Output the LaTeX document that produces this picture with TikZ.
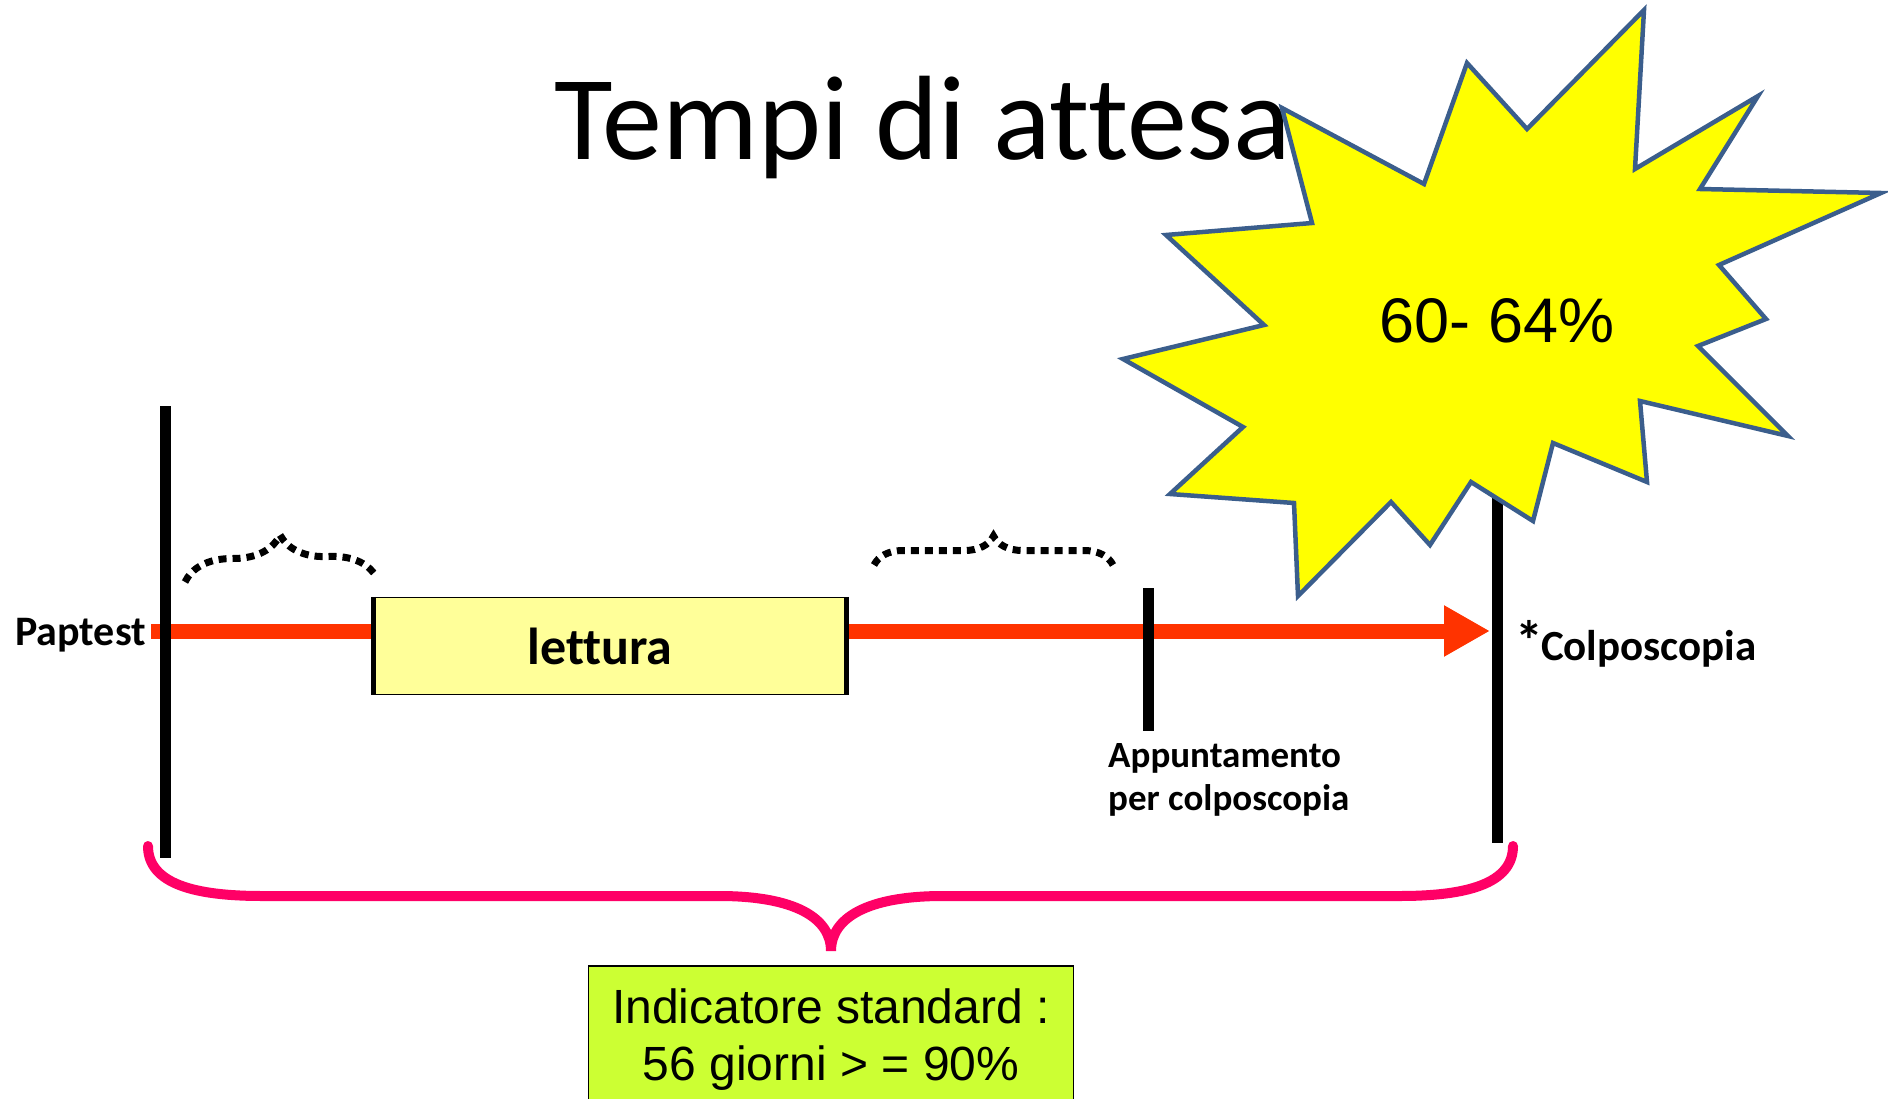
\documentclass[tikz,border=0pt]{standalone}
\usepackage{fontspec}
\setmainfont[Ligatures=NoCommon]{Carlito}
\newfontfamily\arialFont{Liberation Sans}
\usetikzlibrary{arrows.meta, decorations.pathreplacing, calc, positioning}
\definecolor{lineRed}{RGB}{255,51,0}
\definecolor{bracePink}{RGB}{255,0,102}
\definecolor{starYellow}{RGB}{255,255,0}
\definecolor{starBlue}{RGB}{59,94,140}
\definecolor{readYellow}{RGB}{255,255,153}
\definecolor{boxGreen}{RGB}{204,255,51}
\tikzset{
    timeBar/.style={line width=11pt, black},
    timeArrow/.style={line width=15pt, lineRed, -{Triangle[length=46pt, width=48pt]}},
    readBox/.style={draw, line width=1.5pt, fill=readYellow, minimum width=471pt, minimum height=97pt, inner sep=0pt, font=\bfseries\fontsize{52}{60}\selectfont},
    boxSide/.style={line width=5pt, black},
    dotBrace/.style={line width=7pt, dash pattern=on 8pt off 6pt, decorate, decoration={brace, amplitude=#1}},
    pinkBrace/.style={line width=10pt, bracePink, line cap=round},
    stepLabel/.style={inner sep=0pt, font=\bfseries\fontsize{#1}{#1}\selectfont},
    burst/.style={draw=starBlue, line width=4.5pt, fill=starYellow, line join=miter},
    resultBox/.style={draw, line width=1.5pt, fill=boxGreen, anchor=north, minimum width=485pt, inner xsep=0pt, inner ysep=23pt, align=center, font=\arialFont\fontsize{48}{57}\selectfont},
}

\begin{document}
\begin{tikzpicture}[x=1pt, y=-1pt]
    \useasboundingbox (0,0) rectangle (1888,1099);

    % title
    \node[anchor=base, inner sep=0pt, font=\fontsize{120}{130}\selectfont] (title) at (923,160) {Tempi di attesa};

    % time line
    \coordinate (lineStart) at (151,631);
    \coordinate (lineEnd) at (1490,631);
    \draw[timeArrow] (lineStart) -- (lineEnd);

    \coordinate (papTop) at (165,406);
    \coordinate (papBot) at (165,858);
    \coordinate (appTop) at (1148,588);
    \coordinate (appBot) at (1148,731);
    \coordinate (colTop) at (1497,470);
    \coordinate (colBot) at (1497,843);
    \draw[timeBar] (papTop) -- (papBot);
    \draw[timeBar] (appTop) -- (appBot);
    \draw[timeBar] (colTop) -- (colBot);

    % lettura
    \node[readBox] (read) at (610,646) {\hspace*{-20pt}lettura};
    \draw[boxSide] (read.north west) -- (read.south west);
    \draw[boxSide] (read.north east) -- (read.south east);

    % waiting braces
    \coordinate (waitA1) at (185,582);
    \coordinate (waitA2) at (377,578);
    \coordinate (waitB1) at (874,565);
    \coordinate (waitB2) at (1113,565);
    \draw[dotBrace=45pt] (waitA1) -- (waitA2);
    \draw[dotBrace=29pt] (waitB1) -- (waitB2);

    % labels
    \node[stepLabel=42, anchor=base east] (pap) at (146,645) {Paptest};
    \node[stepLabel=43, anchor=base west] (colpo) at (1515,660) {{\fontsize{56}{56}\selectfont*}\kern-2pt Colposcopia};
    \node[inner sep=0pt, anchor=base west, align=left, font=\bfseries\fontsize{37}{43}\selectfont] (app) at (1108,810) {Appuntamento\\per colposcopia};

    % total brace
    \coordinate (braceL) at (148,846);
    \coordinate (braceR) at (1513,846);
    \coordinate (braceTip) at (831,951);
    \draw[pinkBrace] (braceL) .. controls (148,884) and (195,896) .. (262,896) -- (719,896)
        .. controls (795,896) and (831,918) .. (braceTip)
        .. controls (831,918) and (867,896) .. (943,896) -- (1400,896)
        .. controls (1466,896) and (1513,884) .. (braceR);

    \node[resultBox] (std) at (831,965) {Indicatore standard :\\56 giorni > = 90\%};

    % burst
    \draw[burst] (1282,108) -- (1424,184) -- (1467,63) -- (1527,129) -- (1644,10) -- (1635,169)
        -- (1758,96) -- (1700,189) -- (1881,193) -- (1719,265) -- (1766,319) -- (1698,346)
        -- (1788,436) -- (1640,401) -- (1647,482) -- (1553,443) -- (1533,521) -- (1471,482)
        -- (1430,545) -- (1391,502) -- (1298,596) -- (1294,503) -- (1170,494) -- (1243,427)
        -- (1123,359) -- (1264,325) -- (1166,235) -- (1312,223) -- cycle;
    \node[inner sep=0pt, font=\arialFont\fontsize{63}{70}\selectfont] (pct) at (1497,321) {60- 64\%};
\end{tikzpicture}
\end{document}
